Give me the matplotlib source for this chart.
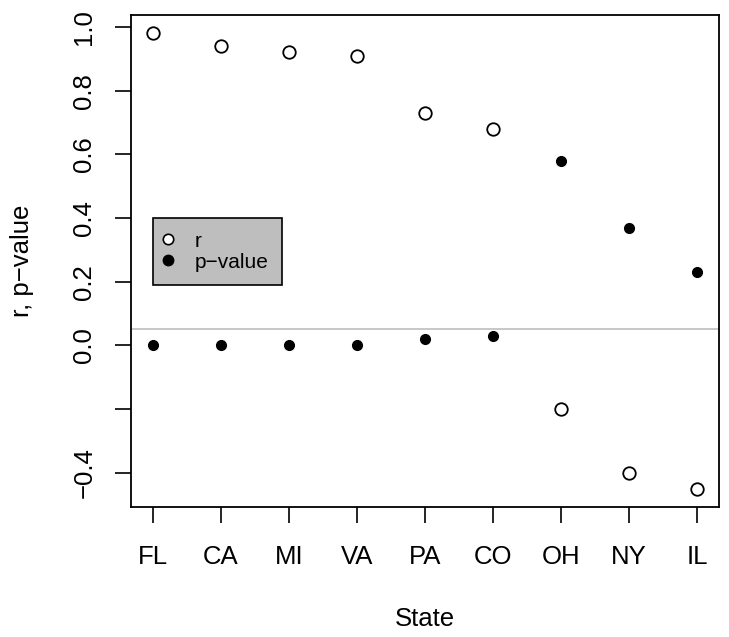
import numpy as np
import matplotlib
matplotlib.use("Agg")
import matplotlib.pyplot as plt
from matplotlib.lines import Line2D

plt.rcParams['font.family'] = ['Liberation Sans', 'DejaVu Sans']
plt.rcParams['axes.unicode_minus'] = True

# correlation and p-value per state
states = ["FL", "CA", "MI", "VA", "PA", "CO", "OH", "NY", "IL"]
r_vals = [0.98, 0.94, 0.92, 0.91, 0.73, 0.68, -0.20, -0.40, -0.45]
p_vals = [0.0, 0.0, 0.0, 0.0, 0.02, 0.03, 0.58, 0.37, 0.23]
alpha = 0.05

y_ticks = [-0.4, -0.2, 0.0, 0.2, 0.4, 0.6, 0.8, 1.0]
y_tick_labels = ["\u22120.4", "", "0.0", "0.2", "0.4", "0.6", "0.8", "1.0"]

fs = 18.5
fig = plt.figure(figsize=(7.29, 6.37), dpi=100)
ax = fig.add_axes([131 / 729, 1 - 507 / 637, 588 / 729, 492 / 637])

x = np.arange(1, len(states) + 1)
ax.plot(x, r_vals, ls="none", marker="o", ms=9, mfc="white", mec="black", mew=1.3)
ax.plot(x, p_vals, ls="none", marker="o", ms=7, mfc="black", mec="black", mew=1)
ax.axhline(alpha, color="#bebebe", lw=1.2)

# R-style 4% padding around the data range
ymin, ymax = min(r_vals + p_vals), max(r_vals + p_vals)
pad = 0.04 * (ymax - ymin)
ax.set_ylim(ymin - pad, ymax + pad)
ax.set_xlim(1 - 0.04 * 8, len(states) + 0.04 * 8)

ax.set_xticks(x)
ax.set_xticklabels(states, fontsize=fs)
ax.set_yticks(y_ticks)
ax.set_yticklabels(y_tick_labels, fontsize=fs, rotation=90, va="center")
ax.tick_params(axis="both", length=11.5, width=1.2, color="black")
ax.tick_params(axis="x", pad=16)
ax.tick_params(axis="y", pad=13.5)
for s in ax.spines.values():
    s.set_linewidth(1.3)

fig.text(425 / 729, 1 - 619 / 637, "State", fontsize=fs, ha="center", va="center")
fig.text(22 / 729, 1 - 261 / 637, "r, p\u2212value", fontsize=fs, rotation=90,
         ha="center", va="center")

handles = [
    Line2D([], [], ls="none", marker="o", ms=7.5, mfc="white", mec="black", mew=1.2),
    Line2D([], [], ls="none", marker="o", ms=7.5, mfc="black", mec="black"),
]
leg = ax.legend(handles, ["r", "p\u2212value"], loc="upper left",
                bbox_to_anchor=(1, 0.4), bbox_transform=ax.transData,
                fontsize=15, frameon=True, fancybox=False, framealpha=1,
                facecolor="#bebebe", edgecolor="black", handlelength=0.2,
                handletextpad=1.15, borderpad=0.65, labelspacing=0.1,
                borderaxespad=0)
leg.get_frame().set_linewidth(1.2)

fig.savefig("out.png", dpi=100)
